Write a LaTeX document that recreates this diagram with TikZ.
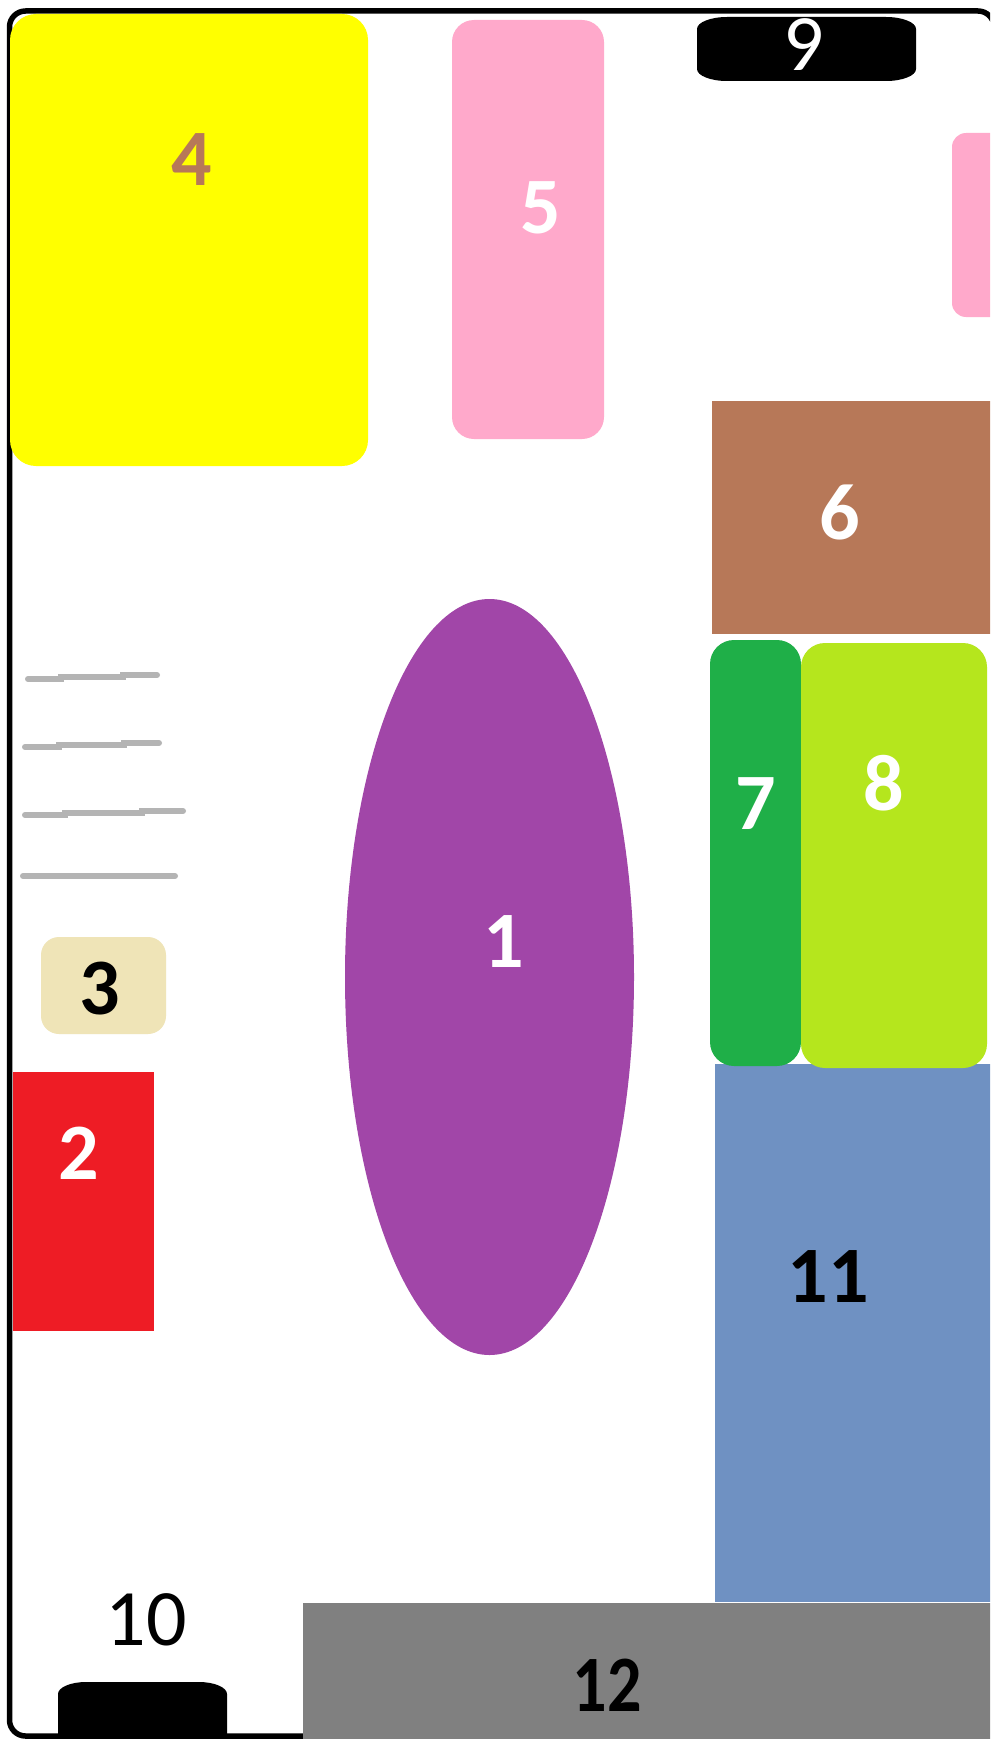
\documentclass[tikz,border=0pt]{standalone}
\usepackage{fontspec}
\setmainfont{Carlito}
\usetikzlibrary{shapes.geometric}
\definecolor{cyellow}{HTML}{FFFF00}
\definecolor{cpink}{HTML}{FFA9CB}
\definecolor{cbrown}{HTML}{B77858}
\definecolor{cgreen}{HTML}{1FAF48}
\definecolor{clime}{HTML}{B5E61D}
\definecolor{cblue}{HTML}{6F91C2}
\definecolor{cgray}{HTML}{808080}
\definecolor{cpurple}{HTML}{A146A8}
\definecolor{cred}{HTML}{EE1C25}
\definecolor{cbeige}{HTML}{EFE4B7}
\definecolor{clinegray}{HTML}{B4B4B4}
\begin{document}
\begin{tikzpicture}[x=1pt,y=-1pt,
  blk/.style={draw=none,inner sep=0pt,outer sep=0pt,anchor=north west},
  lbl/.style={inner sep=0pt,font=\fontsize{80}{96}\selectfont\bfseries},
  lblr/.style={inner sep=0pt,font=\fontsize{80}{96}\selectfont},
  stroke/.style={line width=6pt,clinegray,line cap=round}]
\useasboundingbox (0,0) rectangle (990,1739);
\clip (0,0) rectangle (990,1739);
\fill[white] (0,0) rectangle (990,1739);
% frame
\draw[line width=5.5pt,rounded corners=16pt] (310,1736) -- (9.5,1736) -- (9.5,11) -- (994,11) -- (994,300);
% blocks
\node[blk,fill=cyellow,rounded corners=26pt,minimum width=358pt,minimum height=452pt] (n4) at (10,14) {};
\node[blk,fill=cpink,rounded corners=22pt,minimum width=152pt,minimum height=419pt] (n5) at (452,20) {};
% block 9 (elliptical corners)
\coordinate (n9) at (806,49);
\fill[black] (727,17) -- (886,17) arc[start angle=-90,end angle=0,x radius=30,y radius=12]
  -- (916,69) arc[start angle=0,end angle=90,x radius=30,y radius=12]
  -- (727,81) arc[start angle=90,end angle=180,x radius=30,y radius=12]
  -- (697,29) arc[start angle=180,end angle=270,x radius=30,y radius=12] -- cycle;
\node[blk,fill=cpink,rounded corners=14pt,minimum width=60pt,minimum height=184pt] (n13) at (952,133) {};
\node[blk,fill=cbrown,minimum width=290pt,minimum height=233pt] (n6) at (712,401) {};
\node[blk,fill=cblue,minimum width=290pt,minimum height=538pt] (n11) at (715,1064) {};
\node[blk,fill=cgreen,rounded corners=24pt,minimum width=91pt,minimum height=426pt] (n7) at (710,640) {};
\node[blk,fill=clime,rounded corners=24pt,minimum width=186pt,minimum height=425pt] (n8) at (801,643) {};
\node[blk,fill=cgray,minimum width=700pt,minimum height=145pt] (n12) at (303,1603) {};
\node[ellipse,fill=cpurple,inner sep=0pt,minimum width=289pt,minimum height=756pt] (n1) at (489.5,977) {};
\node[blk,fill=cbeige,rounded corners=18pt,minimum width=125pt,minimum height=97pt] (n3) at (41,937) {};
\node[blk,fill=cred,minimum width=141pt,minimum height=259pt] (n2) at (13,1072) {};
% block 10 (elliptical corners)
\coordinate (n10) at (142,1712);
\fill[black] (86,1682) -- (199,1682) arc[start angle=-90,end angle=0,x radius=28,y radius=12]
  -- (227,1745) -- (58,1745) -- (58,1694)
  arc[start angle=180,end angle=270,x radius=28,y radius=12] -- cycle;
% grey strokes
\draw[stroke] (28,679) -- (61,679) -- (61,677) -- (123,677) -- (123,675) -- (157,675);
\draw[stroke] (25,747) -- (59,747) -- (59,745) -- (124,745) -- (124,743) -- (159,743);
\draw[stroke] (25,815) -- (65,815) -- (65,813) -- (142,813) -- (142,811) -- (183,811);
\draw[stroke] (23,876) -- (175,876);
% labels
\node[lbl,text=cbrown] (l4) at (192,160) {4};
\node[lbl,text=white] (l5) at (541,208) {5};
\node[lblr,text=white] (l9) at (804,45) {9};
\node[lbl,text=white] (l6) at (840,512) {6};
\node[lbl,text=white] (l7) at (756,804) {7};
\node[lbl,text=white] (l8) at (884,783) {8};
\node[lbl,text=white] (l1) at (504,942) {1};
\node[lbl,text=black] (l3) at (100,989) {3};
\node[lbl,text=white] (l2) at (79,1153) {2};
\node[lbl,text=black] (l11) at (828,1277) {11};
\node[lbl,text=black,xscale=0.85] (l12) at (607,1685) {12};
\node[lblr,text=black] (l10) at (146,1620) {10};
\end{tikzpicture}
\end{document}
